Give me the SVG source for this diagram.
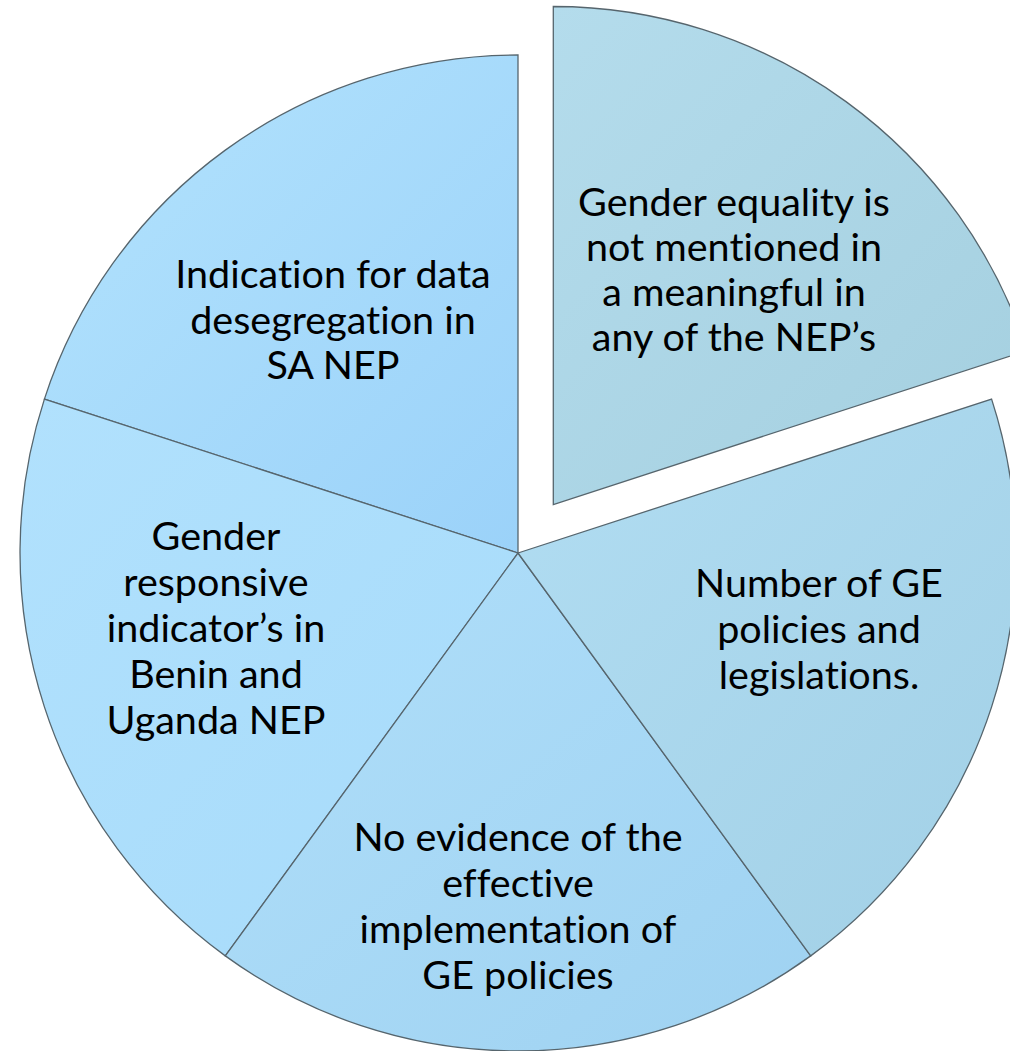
<svg xmlns="http://www.w3.org/2000/svg" width="1010" height="1051" viewBox="0 0 1010 1051">
  <style>
    .slice { stroke: #56656d; stroke-width: 1.3; stroke-linejoin: miter; }
    .lbl { font-family: Lato, "Liberation Sans", sans-serif; font-size: 39.5px; fill: #000; text-anchor: middle; font-variant-ligatures: none; font-feature-settings: "liga" 0; }
  </style>
  <defs>
    <linearGradient id="gTL" x1="0" y1="0" x2="1" y2="1">
      <stop offset="0" stop-color="#b3e3fd"/>
      <stop offset="1" stop-color="#9bd2f9"/>
    </linearGradient>
    <linearGradient id="gL" x1="0" y1="0" x2="1" y2="1">
      <stop offset="0" stop-color="#b1e1fd"/>
      <stop offset="1" stop-color="#a7dbfa"/>
    </linearGradient>
    <linearGradient id="gB" x1="0" y1="0" x2="1" y2="1">
      <stop offset="0" stop-color="#b0dffa"/>
      <stop offset="1" stop-color="#9fd2f1"/>
    </linearGradient>
    <linearGradient id="gR" x1="0" y1="0" x2="1" y2="1">
      <stop offset="0" stop-color="#b1ddf2"/>
      <stop offset="1" stop-color="#a2d0e6"/>
    </linearGradient>
    <linearGradient id="gE" x1="0" y1="0" x2="1" y2="1">
      <stop offset="0" stop-color="#b4dcec"/>
      <stop offset="1" stop-color="#a4cfdf"/>
    </linearGradient>
  </defs>

  <g id="slice-data-desegregation">
    <path class="slice" fill="url(#gTL)" d="M518,553 L44.4,399.1 A498,498 0 0 1 518,55 Z"/>
    <text class="lbl" x="333" y="288">Indication for data</text>
    <text class="lbl" x="333" y="334">desegregation in</text>
    <text class="lbl" x="333" y="379">SA NEP</text>
  </g>

  <g id="slice-gender-responsive">
    <path class="slice" fill="url(#gL)" d="M518,553 L225.3,955.9 A498,498 0 0 1 44.4,399.1 Z"/>
    <text class="lbl" x="216" y="550">Gender</text>
    <text class="lbl" x="216" y="596">responsive</text>
    <text class="lbl" x="216" y="642">indicator’s in</text>
    <text class="lbl" x="216" y="688">Benin and</text>
    <text class="lbl" x="216" y="734">Uganda NEP</text>
  </g>

  <g id="slice-no-evidence">
    <path class="slice" fill="url(#gB)" d="M518,553 L810.7,955.9 A498,498 0 0 1 225.3,955.9 Z"/>
    <text class="lbl" x="518" y="851">No evidence of the</text>
    <text class="lbl" x="518" y="897">effective</text>
    <text class="lbl" x="518" y="943">implementation of</text>
    <text class="lbl" x="518" y="989">GE policies</text>
  </g>

  <g id="slice-ge-policies">
    <path class="slice" fill="url(#gR)" d="M518,553 L991.6,399.1 A498,498 0 0 1 810.7,955.9 Z"/>
    <text class="lbl" x="819" y="597">Number of GE</text>
    <text class="lbl" x="819" y="643">policies and</text>
    <text class="lbl" x="819" y="689">legislations.</text>
  </g>

  <g id="slice-gender-equality">
    <path class="slice" fill="url(#gE)" d="M553.3,504.5 L553.3,6.5 A498,498 0 0 1 1026.9,350.6 Z"/>
    <text class="lbl" x="734" y="216">Gender equality is</text>
    <text class="lbl" x="734" y="261">not mentioned in</text>
    <text class="lbl" x="734" y="306">a meaningful in</text>
    <text class="lbl" x="734" y="351">any of the NEP’s</text>
  </g>

  <g id="connectors"></g>
</svg>
